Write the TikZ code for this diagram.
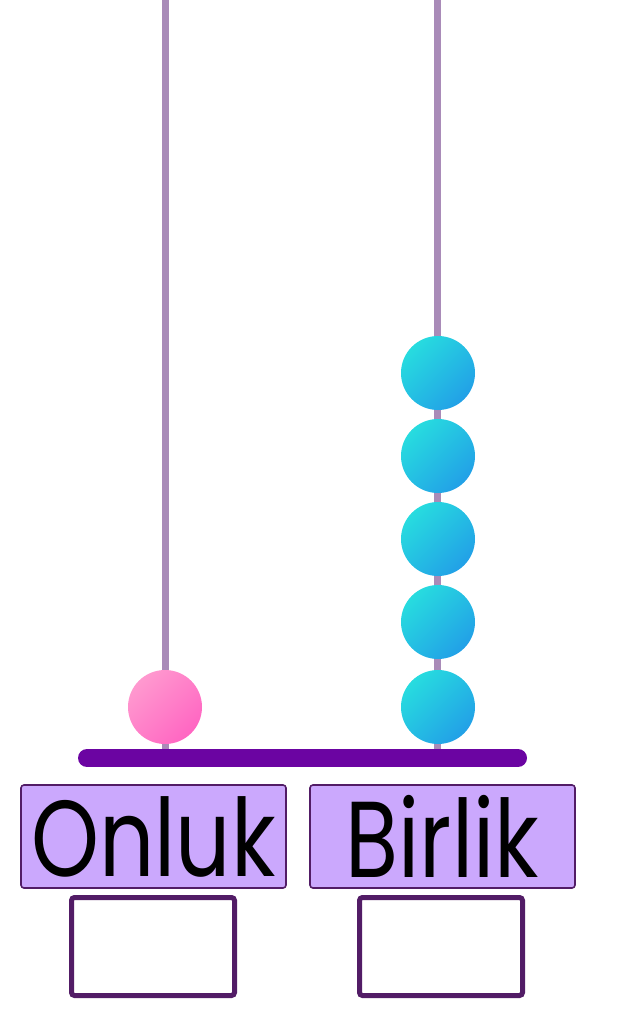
\documentclass[tikz,border=0pt]{standalone}
\usepackage{fontspec}
\usepackage{graphicx}
\setmainfont{Poppins}
\usetikzlibrary{positioning}
\definecolor{rodlilac}{HTML}{A98BB8}
\definecolor{basepurple}{HTML}{6B04A2}
\definecolor{framepurple}{HTML}{521C66}
\definecolor{labellilac}{HTML}{CBA8FD}
\definecolor{tenlight}{HTML}{FF99CF}
\definecolor{tendark}{HTML}{FF66C2}
\definecolor{onelight}{HTML}{27DCDF}
\definecolor{onedark}{HTML}{22A0E7}
\tikzset{
  abrod/.style={draw=rodlilac, line width=7pt},
  abbase/.style={draw=basepurple, line width=18pt, line cap=round},
  abbead/.style={circle, minimum size=74pt, inner sep=0pt},
  tenbead/.style={abbead, top color=tenlight, bottom color=tendark,
                  shading angle=45},
  onebead/.style={abbead, top color=onelight, bottom color=onedark,
                  shading angle=45},
  ablabel/.style={rectangle, rounded corners=3pt, draw=framepurple,
                  line width=1.6pt, fill=labellilac, minimum width=265pt,
                  minimum height=103pt, inner sep=0pt,
                  font=\fontsize{108}{108}\selectfont},
  abanswer/.style={rectangle, rounded corners=3pt, draw=framepurple,
                   line width=5pt, fill=white, minimum width=163pt,
                   minimum height=98pt, inner sep=0pt}
}

\begin{document}
\begin{tikzpicture}[x=1pt, y=-1pt]
  \useasboundingbox (0,0) rectangle (622,1011);
  % rods hang from the top edge down to the base bar
  \coordinate (tentop) at (165,0);
  \coordinate (tenfoot) at (165,752);
  \coordinate (onetop) at (437,0);
  \coordinate (onefoot) at (437,752);
  \draw[abrod] (tentop) -- (tenfoot);
  \draw[abrod] (onetop) -- (onefoot);
  \coordinate (baseL) at (87,758);
  \coordinate (baseR) at (518,758);
  \draw[abbase] (baseL) -- (baseR);
  % beads: one ten, five ones
  \node[tenbead] (ten1) at (165,707) {};
  \foreach \k/\y in {1/707,2/622,3/539,4/456,5/373} {
    \node[onebead] (one\k) at (438,\y) {};
  }
  % place-value labels and empty answer boxes
  \node[ablabel] (onluk) at (153.5,836.5) {\scalebox{0.8}[1]{Onluk}};
  \node[ablabel] (birlik) at (442.5,836.5) {\scalebox{0.8}[1]{Birlik}};
  \node[abanswer] (tenans) at (153,946.5) {};
  \node[abanswer] (oneans) at (441,946.5) {};
\end{tikzpicture}
\end{document}
